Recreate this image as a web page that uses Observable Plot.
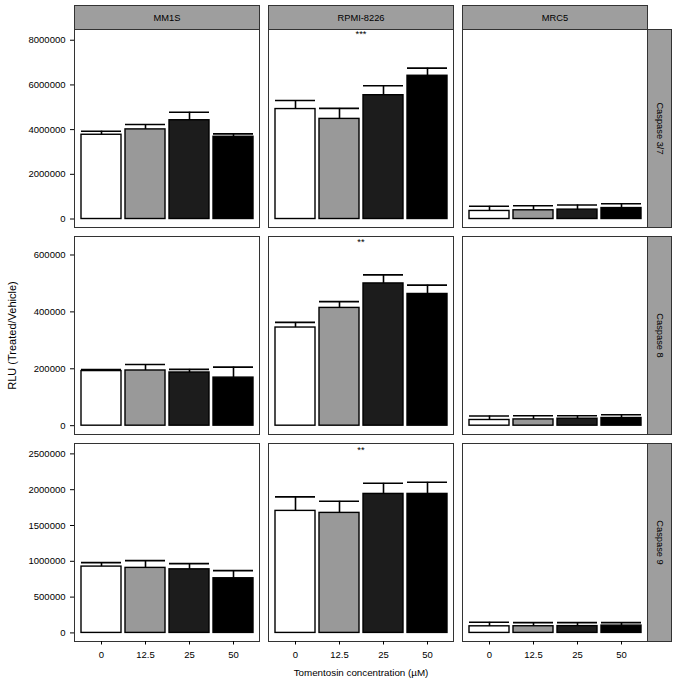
<!DOCTYPE html>
<html>
<head>
<meta charset="utf-8">
<script src="https://cdn.jsdelivr.net/npm/d3@7"></script>
<script src="https://cdn.jsdelivr.net/npm/@observablehq/plot@0.6"></script>
<style>
  body { margin: 0; background: #ffffff; }
  #chart { width: 677px; }
  #chart svg { display: block; }
</style>
</head>
<body>
<div id="chart"></div>
<script>
// ---------------- data ----------------
const cellLines = ["MM1S", "RPMI-8226", "MRC5"];
const caspases = ["Caspase 3/7", "Caspase 8", "Caspase 9"];
const concentrations = ["0", "12.5", "25", "50"];
const barFills = ["#ffffff", "#999999", "#1c1c1c", "#000000"];

// mean RLU per cell line (rows: MM1S, RPMI-8226, MRC5; cols: 0, 12.5, 25, 50 µM)
const casp37Mean = [
  [3770000, 4010000, 4420000, 3680000],
  [4920000, 4480000, 5540000, 6410000],
  [360000, 390000, 420000, 490000]
];
const casp37Err = [
  [160000, 220000, 360000, 130000],
  [380000, 470000, 420000, 340000],
  [210000, 200000, 210000, 190000]
];
const casp8Mean = [
  [192000, 194000, 187000, 169000],
  [345000, 414000, 500000, 463000],
  [20000, 22000, 24500, 27000]
];
const casp8Err = [
  [5500, 21000, 11000, 37000],
  [18000, 22000, 30000, 31000],
  [14000, 13000, 10500, 11500]
];
const casp9Mean = [
  [926000, 908000, 888000, 763000],
  [1704000, 1676000, 1941000, 1941000],
  [92000, 93000, 95000, 102000]
];
const casp9Err = [
  [56000, 102000, 80000, 107000],
  [195000, 162000, 148000, 162000],
  [56000, 51000, 49000, 42000]
];

const casp37Ticks = [0, 2000000, 4000000, 6000000, 8000000];
const casp8Ticks = [0, 200000, 400000, 600000];
const casp9Ticks = [0, 500000, 1000000, 1500000, 2000000, 2500000];

const significanceLabels = ["***", "**", "**"];
const significanceY = [8260000, 647000, 2550000];
const significanceCell = "RPMI-8226";

const yLabel = "RLU (Treated/Vehicle)";
const xLabel = "Tomentosin concentration (\u00b5M)";

// ---------------- build ----------------
const means = [casp37Mean, casp8Mean, casp9Mean];
const errs = [casp37Err, casp8Err, casp9Err];
const yTicks = [casp37Ticks, casp8Ticks, casp9Ticks];
const yDomains = [[-380000, 8480000], [-31000, 665000], [-120000, 2645000]];
const rowLayout = [
  {height: 231, marginTop: 29, marginBottom: 4},
  {height: 207, marginTop: 5, marginBottom: 4},
  {height: 243, marginTop: 5, marginBottom: 40}
];
const FONT = "'Liberation Sans', Arial, Helvetica, sans-serif";

function rowData(r) {
  const out = [];
  cellLines.forEach((cell, ci) => {
    concentrations.forEach((conc, k) => {
      const m = means[r][ci][k];
      out.push({cell, conc, mean: m, upper: m + errs[r][ci][k]});
    });
  });
  return out;
}

function makeRow(r) {
  const data = rowData(r);
  const annot = [{cell: significanceCell, label: significanceLabels[r], y: significanceY[r]}];
  const last = r === caspases.length - 1;
  const marks = [
    Plot.barY(data, {fx: "cell", x: "conc", y: "mean", fill: "conc", stroke: "#000", strokeWidth: 1.4}),
    Plot.ruleX(data, {fx: "cell", x: "conc", y1: "mean", y2: "upper", stroke: "#000", strokeWidth: 1.6}),
    Plot.tickY(data, {fx: "cell", x: "conc", y: "upper", stroke: "#000", strokeWidth: 1.6}),
    Plot.text(annot, {fx: "cell", y: "y", text: "label", fontSize: 9.4, fill: "#000"}),
    Plot.frame({stroke: "#333", strokeWidth: 1}),
    Plot.axisY({ticks: yTicks[r], tickFormat: "d", tickSize: 4, tickPadding: 5, label: null, fontSize: 9.5})
  ];
  if (r === 1) {
    marks.push(Plot.axisY({ticks: [], label: yLabel, labelAnchor: "center", labelArrow: "none", labelOffset: 66, fontSize: 11}));
  }
  if (last) {
    marks.push(Plot.axisX({tickSize: 3.5, tickPadding: 6, label: null, fontSize: 9.5}));
    marks.push(Plot.axisX({ticks: [], label: xLabel, labelAnchor: "center", labelArrow: "none", labelOffset: 34, fontSize: 9.8}));
  }
  const L = rowLayout[r];
  return Plot.plot({
    width: 677,
    height: L.height,
    marginLeft: 73,
    marginRight: 29,
    marginTop: L.marginTop,
    marginBottom: L.marginBottom,
    style: {fontFamily: FONT, fontSize: "9.5px", background: "#ffffff", color: "#000"},
    fx: {domain: cellLines, paddingInner: 0.046, paddingOuter: 0, axis: null, label: null},
    x: last ? {domain: concentrations, paddingInner: 0.1, paddingOuter: 0.15}
            : {domain: concentrations, paddingInner: 0.1, paddingOuter: 0.15, axis: null},
    y: {domain: yDomains[r]},
    color: {domain: concentrations, range: barFills},
    marks
  });
}

function addStrips(svg, r) {
  const sb = svg.getBoundingClientRect();
  const frames = Array.from(svg.querySelectorAll('g[aria-label="frame"] rect')).map(el => {
    const b = el.getBoundingClientRect();
    return {x: b.left - sb.left, y: b.top - sb.top, w: b.width, h: b.height};
  }).sort((a, b) => a.x - b.x);
  const g = d3.select(svg).append("g").attr("aria-label", "strips");
  const S = 24;
  if (r === 0) {
    frames.forEach((f, i) => {
      g.append("rect").attr("x", f.x).attr("y", f.y - S).attr("width", f.w).attr("height", S)
        .attr("fill", "#9e9e9e").attr("stroke", "#333").attr("stroke-width", 1);
      g.append("text").attr("x", f.x + f.w / 2).attr("y", f.y - S / 2)
        .attr("text-anchor", "middle").attr("dominant-baseline", "central")
        .attr("font-family", FONT).attr("font-size", 9.3).attr("fill", "#000")
        .text(cellLines[i]);
    });
  }
  const f = frames[frames.length - 1];
  g.append("rect").attr("x", f.x + f.w).attr("y", f.y).attr("width", S).attr("height", f.h)
    .attr("fill", "#9e9e9e").attr("stroke", "#333").attr("stroke-width", 1);
  const cx = f.x + f.w + S / 2, cy = f.y + f.h / 2;
  g.append("text").attr("transform", `translate(${cx},${cy}) rotate(90)`)
    .attr("text-anchor", "middle").attr("dominant-baseline", "central")
    .attr("font-family", FONT).attr("font-size", 9.3).attr("fill", "#000")
    .text(caspases[r]);
}

const container = document.getElementById("chart");
caspases.forEach((c, r) => {
  const svg = makeRow(r);
  container.appendChild(svg);
  addStrips(svg, r);
});
</script>
</body>
</html>
